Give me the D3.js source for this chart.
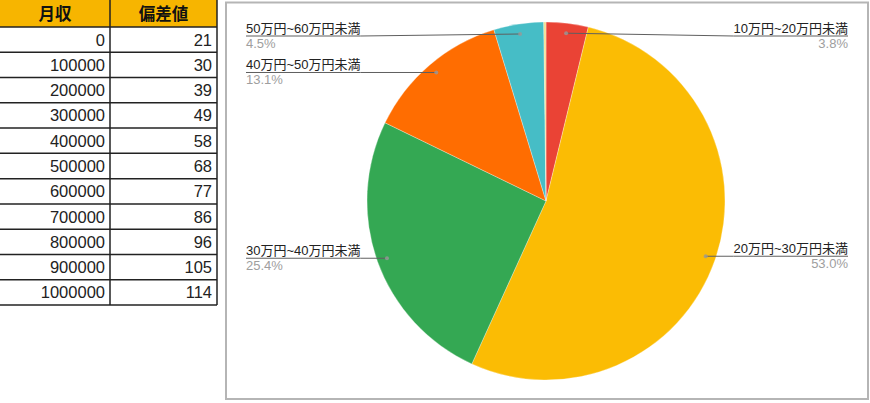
<!DOCTYPE html>
<html>
<head>
<meta charset="utf-8">
<script src="https://cdn.jsdelivr.net/npm/d3@7"></script>
<style>
  body { margin: 0; background: #fff; }
  svg { display: block; }
</style>
</head>
<body>
<div id="chart"></div>
<script>
// table data
const tableHeaders = ["月収", "偏差値"];
const incomes = [0, 100000, 200000, 300000, 400000, 500000, 600000, 700000, 800000, 900000, 1000000];
const scores = [21, 30, 39, 49, 58, 68, 77, 86, 96, 105, 114];

// pie data (percent)
const categories = ["10万円~20万円未満", "20万円~30万円未満", "30万円~40万円未満", "40万円~50万円未満", "50万円~60万円未満", "60万円以上"];
const shares = [3.8, 53.0, 25.4, 13.1, 4.5, 0.2];
const colors = ["#ea4335", "#fbbc04", "#34a853", "#ff6d01", "#46bdc6", "#f3dc8c"];

const W = 870, H = 403;
const svg = d3.select("#chart").append("svg")
  .attr("width", W)
  .attr("height", H);

// ---- table ----
const colX = d3.scaleOrdinal().domain([0, 1]).range([0, 110]);
const colW = [110, 107];
const headerH = 27;
const rowY = d3.scaleBand()
  .domain(d3.range(incomes.length))
  .range([headerH, 305]);

const table = svg.append("g");

table.append("rect")
  .attr("x", 0).attr("y", 0)
  .attr("width", 217).attr("height", headerH)
  .attr("fill", "#f7b500");

table.selectAll("text.head")
  .data(tableHeaders)
  .join("text")
  .attr("class", "head")
  .attr("x", (d, i) => colX(i) + colW[i] / 2)
  .attr("y", headerH / 2 + 6)
  .attr("text-anchor", "middle")
  .attr("font-family", "'Noto Sans CJK JP', sans-serif")
  .attr("font-weight", "bold")
  .attr("font-size", "16.5px")
  .attr("fill", "#111")
  .text(d => d);

const rows = table.selectAll("g.row")
  .data(incomes.map((v, i) => [v, scores[i]]))
  .join("g")
  .attr("class", "row")
  .attr("transform", (d, i) => "translate(0," + rowY(i) + ")");

rows.selectAll("text")
  .data(d => d)
  .join("text")
  .attr("x", (d, i) => colX(i) + colW[i] - 5)
  .attr("y", rowY.bandwidth() / 2 + 6)
  .attr("text-anchor", "end")
  .attr("font-family", "Arial, 'Liberation Sans', sans-serif")
  .attr("font-size", "16.5px")
  .attr("fill", "#222")
  .text(d => d);

// grid lines
table.selectAll("line.h")
  .data(d3.range(incomes.length + 1))
  .join("line")
  .attr("class", "h")
  .attr("x1", 0).attr("x2", 217)
  .attr("y1", i => i === 0 ? headerH : rowY(i - 1) + rowY.bandwidth())
  .attr("y2", i => i === 0 ? headerH : rowY(i - 1) + rowY.bandwidth())
  .attr("stroke", "#222")
  .attr("stroke-width", 1.5);

table.selectAll("line.v")
  .data([110, 217])
  .join("line")
  .attr("class", "v")
  .attr("x1", d => d).attr("x2", d => d)
  .attr("y1", 0).attr("y2", 305)
  .attr("stroke", "#222")
  .attr("stroke-width", 1.5);

// ---- pie chart ----
svg.append("rect")
  .attr("x", 226).attr("y", 2.5)
  .attr("width", 642).attr("height", 396.5)
  .attr("fill", "#fff")
  .attr("stroke", "#b5b5b5")
  .attr("stroke-width", 2);

const cx = 546, cy = 201, r = 179;
const pieData = d3.pie().sort(null).value(d => d)(shares);
const arc = d3.arc().innerRadius(0).outerRadius(r);

const pieG = svg.append("g").attr("transform", "translate(" + cx + "," + cy + ")");
pieG.selectAll("path")
  .data(pieData)
  .join("path")
  .attr("d", arc)
  .attr("fill", (d, i) => colors[i])
  .attr("stroke", "#fff")
  .attr("stroke-opacity", 0.6)
  .attr("stroke-width", 0.5);

// labels
const font = "Arial, 'Liberation Sans', 'Noto Sans CJK JP', sans-serif";
const labelG = svg.append("g");
pieData.forEach((d, i) => {
  if (shares[i] < 1) return;
  const a = (d.startAngle + d.endAngle) / 2;
  const dx = cx + 169 * Math.sin(a);
  const dy = cy - 169 * Math.cos(a);
  const right = Math.sin(a) >= 0;
  const ly = Math.max(dy, 36);
  const ax = right ? 848 : 246;
  const anchor = right ? "end" : "start";

  const name = labelG.append("text")
    .attr("x", ax).attr("y", ly - 3)
    .attr("text-anchor", anchor)
    .attr("font-family", font)
    .attr("font-size", "13px")
    .attr("fill", "#222")
    .text(categories[i]);
  const tw = name.node().getComputedTextLength();

  labelG.append("text")
    .attr("x", ax).attr("y", ly + 12)
    .attr("text-anchor", anchor)
    .attr("font-family", font)
    .attr("font-size", "13px")
    .attr("fill", "#9e9e9e")
    .text(shares[i].toFixed(1) + "%");

  const inner = right ? ax - tw : ax + tw;
  labelG.append("path")
    .attr("d", d3.line()([[dx, dy], [inner, ly], [ax, ly]]))
    .attr("fill", "none")
    .attr("stroke", "#5f5f5f")
    .attr("stroke-width", 1);

  labelG.append("circle")
    .attr("cx", dx).attr("cy", dy)
    .attr("r", 2)
    .attr("fill", "#999")
    .attr("opacity", 0.8);
});
</script>
</body>
</html>
